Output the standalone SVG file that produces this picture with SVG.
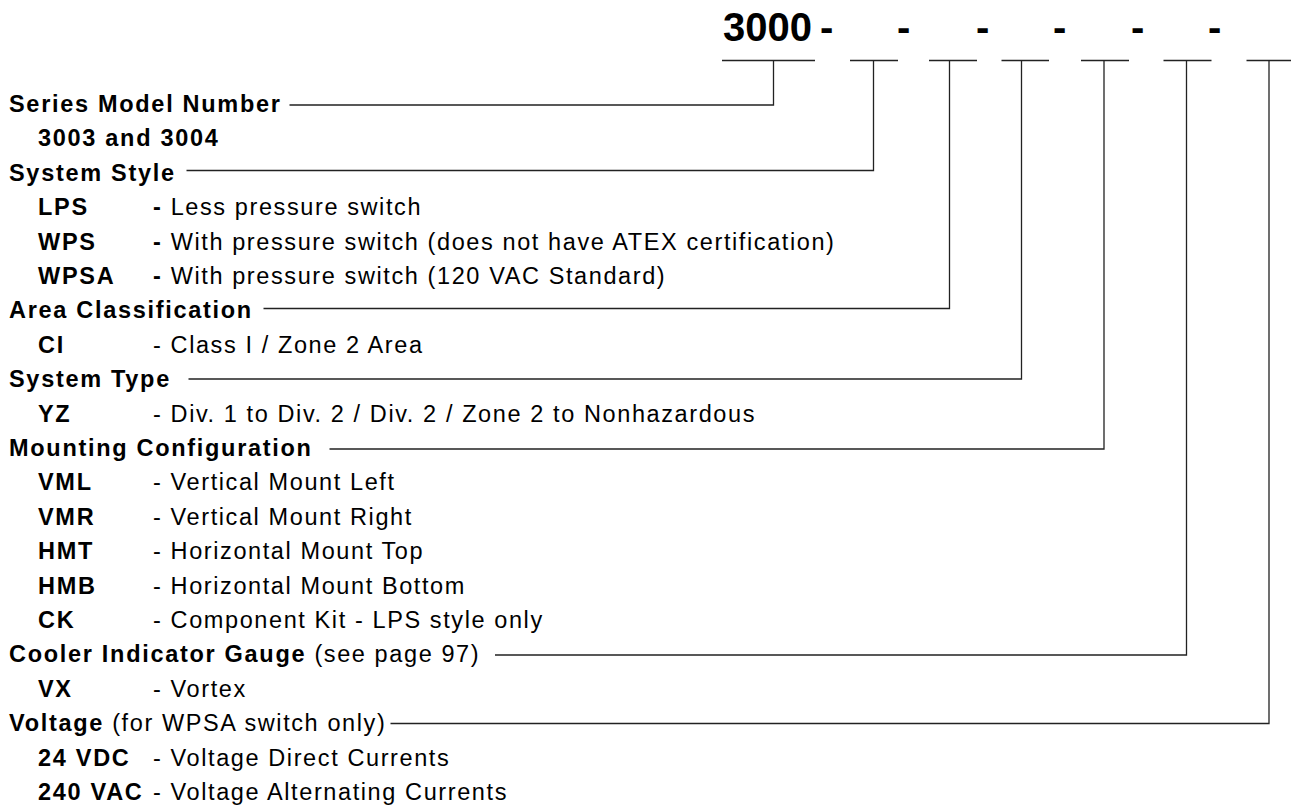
<svg xmlns="http://www.w3.org/2000/svg" width="1291" height="807" viewBox="0 0 1291 807">
<style>
.t{font-family:"Liberation Sans",Arial,Helvetica,sans-serif;font-size:23.5px;letter-spacing:1.6px;fill:#000}
.b{font-weight:bold;letter-spacing:1.7px}
.h{font-family:"Liberation Sans",Arial,Helvetica,sans-serif;font-size:40px;font-weight:bold;fill:#000}
.c{fill:none;stroke:#222;stroke-width:1.3}
</style>
<rect width="1291" height="807" fill="#fff"/>
<g id="header">
<text class="h" x="723" y="41">3000</text>
<text class="h" x="820" y="41">-</text>
<text class="h" x="897" y="41">-</text>
<text class="h" x="976" y="41">-</text>
<text class="h" x="1053" y="41">-</text>
<text class="h" x="1131" y="41">-</text>
<text class="h" x="1208" y="41">-</text>
</g>
<g id="connectors">
<path class="c" d="M722 60.5H815M850 60.5H898M929 60.5H977M1001.5 60.5H1049M1081 60.5H1129M1163.5 60.5H1211.5M1246.5 60.5H1295"/>
<path class="c" d="M289.5 105H773.5V60.5"/>
<path class="c" d="M186.5 170.5H873.5V60.5"/>
<path class="c" d="M263.5 308.5H949.5V60.5"/>
<path class="c" d="M188.5 379H1021.5V60.5"/>
<path class="c" d="M329.5 449H1104V60.5"/>
<path class="c" d="M495 655H1186.5V60.5"/>
<path class="c" d="M390.5 723.5H1269V60.5"/>
</g>
<g id="series">
<text class="t b" x="9" y="112">Series Model Number</text>
<text class="t b" x="38" y="146.4">3003 and 3004</text>
</g>
<g id="system-style">
<text class="t b" x="9" y="180.8">System Style</text>
<text class="t b" x="38" y="215.2">LPS</text>
<text class="t" x="153" y="215.2"><tspan class="b">-</tspan> Less pressure switch</text>
<text class="t b" x="38" y="249.6">WPS</text>
<text class="t" x="153" y="249.6"><tspan class="b">-</tspan> With pressure switch (does not have ATEX certification)</text>
<text class="t b" x="38" y="284">WPSA</text>
<text class="t" x="153" y="284"><tspan class="b">-</tspan> With pressure switch (120 VAC Standard)</text>
</g>
<g id="area-classification">
<text class="t b" x="9" y="318.4">Area Classification</text>
<text class="t b" x="38" y="352.8">CI</text>
<text class="t" x="153" y="352.8">- Class I / Zone 2 Area</text>
</g>
<g id="system-type">
<text class="t b" x="9" y="387.2">System Type</text>
<text class="t b" x="38" y="421.6">YZ</text>
<text class="t" x="153" y="421.6">- Div. 1 to Div. 2 / Div. 2 / Zone 2 to Nonhazardous</text>
</g>
<g id="mounting-configuration">
<text class="t b" x="9" y="456">Mounting Configuration</text>
<text class="t b" x="38" y="490.4">VML</text>
<text class="t" x="153" y="490.4">- Vertical Mount Left</text>
<text class="t b" x="38" y="524.8">VMR</text>
<text class="t" x="153" y="524.8">- Vertical Mount Right</text>
<text class="t b" x="38" y="559.2">HMT</text>
<text class="t" x="153" y="559.2">- Horizontal Mount Top</text>
<text class="t b" x="38" y="593.6">HMB</text>
<text class="t" x="153" y="593.6">- Horizontal Mount Bottom</text>
<text class="t b" x="38" y="628">CK</text>
<text class="t" x="153" y="628">- Component Kit - LPS style only</text>
</g>
<g id="cooler-indicator-gauge">
<text class="t" x="9" y="662.4"><tspan class="b">Cooler Indicator Gauge</tspan> (see page 97)</text>
<text class="t b" x="38" y="696.8">VX</text>
<text class="t" x="153" y="696.8">- Vortex</text>
</g>
<g id="voltage">
<text class="t" x="9" y="731.2"><tspan class="b">Voltage</tspan> (for WPSA switch only)</text>
<text class="t b" x="38" y="765.6">24 VDC</text>
<text class="t" x="153" y="765.6">- Voltage Direct Currents</text>
<text class="t b" x="38" y="800">240 VAC</text>
<text class="t" x="153" y="800">- Voltage Alternating Currents</text>
</g>
</svg>
